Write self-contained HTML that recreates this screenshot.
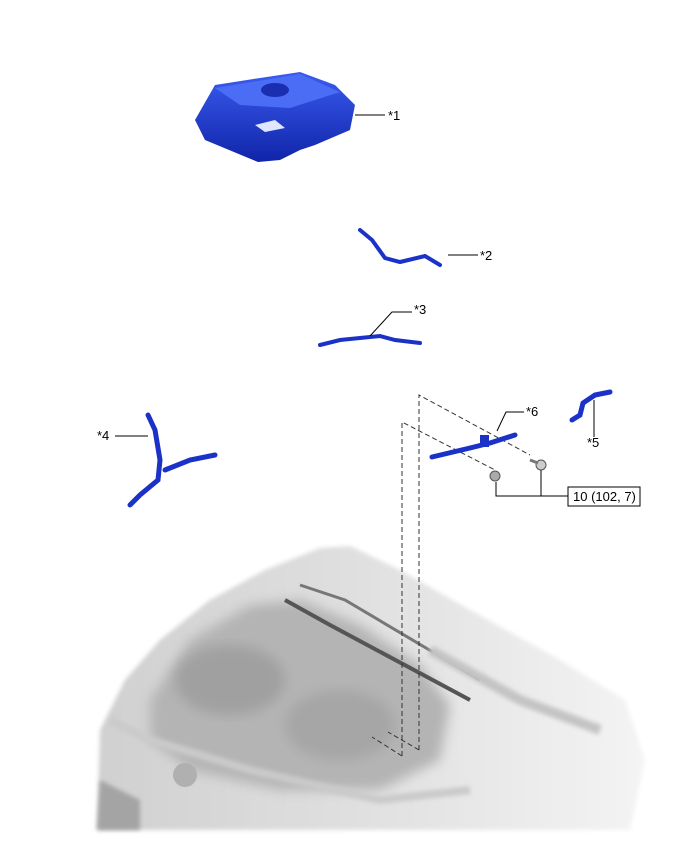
<!DOCTYPE html>
<html><head><style>
html,body{margin:0;padding:0;background:#fff;}
svg{display:block;}
text{font-family:"Liberation Sans",sans-serif;font-size:13px;fill:#000;}
</style></head><body>
<svg width="688" height="852" viewBox="0 0 688 852" xmlns="http://www.w3.org/2000/svg">
<defs>
<filter id="b6"><feGaussianBlur stdDeviation="6"/></filter>
<filter id="b2"><feGaussianBlur stdDeviation="2"/></filter>
<linearGradient id="car" x1="0" y1="0" x2="1" y2="0">
<stop offset="0" stop-color="#d0d0d0"/><stop offset="0.6" stop-color="#e4e4e4"/><stop offset="1" stop-color="#f4f4f4"/></linearGradient>
<linearGradient id="blue" x1="0" y1="0" x2="0" y2="1">
<stop offset="0" stop-color="#3a5cf0"/><stop offset="1" stop-color="#1024a8"/></linearGradient>
</defs>

<g>
<path d="M97,830 L100,730 L125,680 L160,640 L210,600 L265,570 L320,548 L350,546 L400,570 L470,610 L560,660 L625,700 L645,760 L630,830 Z" fill="url(#car)" filter="url(#b2)"/>
<path d="M150,700 L190,640 L250,605 L300,600 L360,625 L420,665 L450,705 L440,760 L380,790 L280,790 L190,770 L150,740 Z" fill="#b4b4b4" filter="url(#b6)"/>
<ellipse cx="230" cy="680" rx="55" ry="35" fill="#a0a0a0" filter="url(#b6)"/>
<ellipse cx="340" cy="725" rx="55" ry="35" fill="#a6a6a6" filter="url(#b6)"/>
<path d="M285,600 L330,625 L470,700" stroke="#555" stroke-width="4" fill="none"/>
<path d="M300,585 L345,600 L480,680" stroke="#777" stroke-width="3" fill="none"/>
<path d="M430,650 L520,700 L600,730" stroke="#c4c4c4" stroke-width="10" fill="none" filter="url(#b2)"/>
<path d="M110,720 L150,740 L250,770 L380,800 L470,790" stroke="#cacaca" stroke-width="8" fill="none" filter="url(#b2)"/>
<ellipse cx="185" cy="775" rx="12" ry="12" fill="#b0b0b0"/>
<path d="M100,780 L140,800 L140,830 L97,830 Z" fill="#a4a4a4" filter="url(#b2)"/>
</g>

<g stroke="#333" stroke-width="1" stroke-dasharray="5,3" fill="none">
<path d="M419,750 L419,395 L530,455"/>
<path d="M402,756 L402,422 L495,470"/>
<path d="M419,750 L388,732"/>
<path d="M402,756 L372,737"/>
</g>

<path d="M195,120 L215,85 L260,78 L300,72 L335,85 L355,105 L350,130 L315,145 L300,150 L280,160 L258,162 L205,140 Z" fill="url(#blue)"/>
<path d="M215,88 L300,74 L340,92 L290,108 L240,105 Z" fill="#4b6cf5"/>
<ellipse cx="275" cy="90" rx="14" ry="7" fill="#1a2fb0"/>
<path d="M255,125 L275,120 L285,128 L265,132 Z" fill="#dfe6ff"/>
<path d="M355,115 L385,115" stroke="#000" stroke-width="1"/>
<text x="388" y="120">*1</text>

<path d="M360,230 L372,240 L385,258 L400,262 L425,256 L440,265" stroke="#1a32c8" stroke-width="4" fill="none" stroke-linecap="round"/>
<path d="M448,255 L478,255" stroke="#000"/>
<text x="480" y="260">*2</text>

<path d="M320,345 L340,340 L360,338 L380,336 L395,340 L420,343" stroke="#1a32c8" stroke-width="4" fill="none" stroke-linecap="round"/>
<path d="M370,336 L392,312 L412,312" stroke="#000" fill="none"/>
<text x="414" y="314">*3</text>

<path d="M148,415 L155,430 L160,460 L158,480 L140,495 L130,505" stroke="#1a32c8" stroke-width="5" fill="none" stroke-linecap="round"/>
<path d="M165,470 L190,460 L215,455" stroke="#1a32c8" stroke-width="5" fill="none" stroke-linecap="round"/>
<path d="M115,436 L148,436" stroke="#000"/>
<text x="97" y="440">*4</text>

<path d="M572,420 L580,415 L583,403 L595,395 L610,392" stroke="#1a32c8" stroke-width="5" fill="none" stroke-linecap="round"/>
<path d="M594,400 L594,437" stroke="#000"/>
<text x="587" y="447">*5</text>

<path d="M432,457 L470,448 L490,443 L515,435" stroke="#1a32c8" stroke-width="5" fill="none" stroke-linecap="round"/>
<rect x="480" y="435" width="9" height="12" fill="#1a32c8"/>
<path d="M497,431 L506,412 L524,412" stroke="#000" fill="none"/>
<text x="526" y="416">*6</text>

<circle cx="495" cy="476" r="5" fill="#aaa" stroke="#555"/>
<circle cx="541" cy="465" r="5" fill="#ccc" stroke="#555"/>
<path d="M530,460 L538,463" stroke="#777" stroke-width="3"/>
<path d="M496,482 L496,496 L541,496 L541,470" stroke="#000" fill="none"/>
<path d="M541,496 L568,496" stroke="#000"/>
<rect x="568" y="487" width="72" height="19" fill="#fff" stroke="#000"/>
<text x="573" y="501">10 (102, 7)</text>
</svg>
</body></html>
